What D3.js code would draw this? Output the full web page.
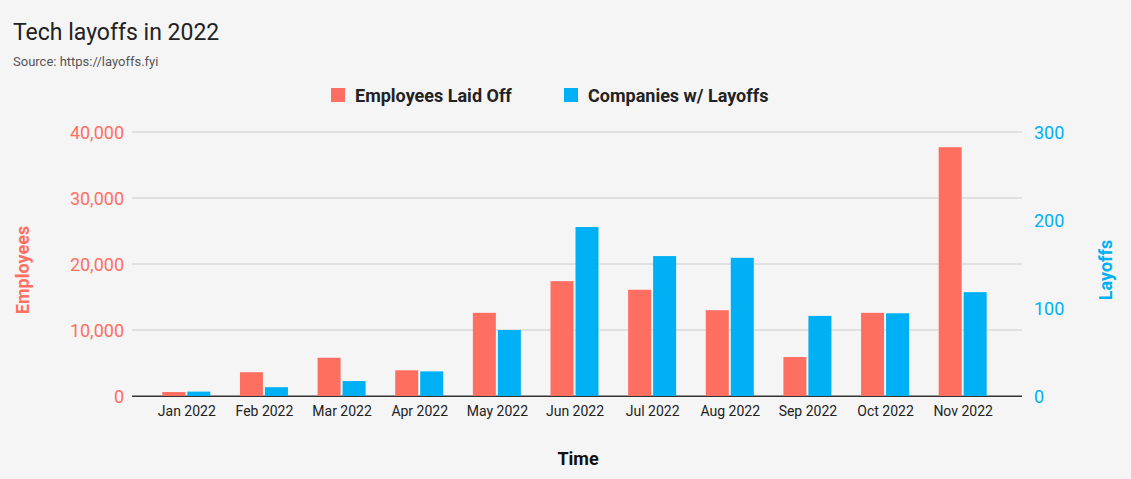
<!DOCTYPE html>
<html><head><meta charset="utf-8">
<script src="https://cdn.jsdelivr.net/npm/d3@7"></script>
<style>body{margin:0;background:#f5f5f5;font-family:Roboto,Arial,sans-serif}</style>
</head><body><svg id="c" width="1131" height="479"></svg>
<script>
const months=["Jan 2022","Feb 2022","Mar 2022","Apr 2022","May 2022","Jun 2022","Jul 2022","Aug 2022","Sep 2022","Oct 2022","Nov 2022"];
const employees=[600,3600,5800,3900,12600,17400,16100,13000,5900,12600,37700];
const companies=[5,10,17,28,75,192,159,157,91,94,118];
const leftTicks=[0,10000,20000,30000,40000];
const rightTicks=[0,100,200,300];
const red="#ff6f61",blue="#00b0f5";
const svg=d3.select("#c");
svg.append("rect").attr("width",1131).attr("height",479).attr("fill","#f5f5f5");
const x=d3.scaleBand().domain(months).range([148,1002]);
const yL=d3.scaleLinear().domain([0,40000]).range([396,132]);
const yR=d3.scaleLinear().domain([0,300]).range([396,132]);
svg.append("text").attr("x",13).attr("y",40).attr("font-size",23).attr("fill","#222").text("Tech layoffs in 2022");
svg.append("text").attr("x",13).attr("y",66).attr("font-size",13).attr("fill","#555").text("Source: https://layoffs.fyi");
// grid
leftTicks.forEach(t=>{svg.append("line").attr("x1",132).attr("x2",1022).attr("y1",yL(t)).attr("y2",yL(t)).attr("stroke",t?"#cccccc":"#333").attr("stroke-width",1);});
// bars
const g=svg.append("g");
g.selectAll(".r").data(months).join("rect").attr("x",d=>x(d)+x.bandwidth()/2-24.5).attr("width",23).attr("y",(d,i)=>yL(employees[i])).attr("height",(d,i)=>396-yL(employees[i])).attr("fill",red);
g.selectAll(".b").data(months).join("rect").attr("x",d=>x(d)+x.bandwidth()/2+0.5).attr("width",23).attr("y",(d,i)=>yR(companies[i])).attr("height",(d,i)=>396-yR(companies[i])).attr("fill",blue);
svg.append("line").attr("x1",132).attr("x2",1022).attr("y1",396.5).attr("y2",396.5).attr("stroke","#333");
// axes labels
svg.selectAll(".lt").data(leftTicks).join("text").attr("x",124).attr("y",d=>yL(d)+7).attr("text-anchor","end").attr("font-size",18).attr("fill",red).text(d3.format(","));
svg.selectAll(".rt").data(rightTicks).join("text").attr("x",1034).attr("y",d=>yR(d)+7).attr("font-size",18).attr("fill",blue).text(d=>d);
svg.selectAll(".xt").data(months).join("text").attr("x",d=>x(d)+x.bandwidth()/2).attr("y",416).attr("text-anchor","middle").attr("font-size",14).attr("fill","#222").text(d=>d);
svg.append("text").attr("transform","translate(29,270) rotate(-90)").attr("text-anchor","middle").attr("font-size",18).attr("font-weight","bold").attr("fill",red).text("Employees");
svg.append("text").attr("transform","translate(1112,270) rotate(-90)").attr("text-anchor","middle").attr("font-size",18).attr("font-weight","bold").attr("fill",blue).text("Layoffs");
svg.append("text").attr("x",578).attr("y",465).attr("text-anchor","middle").attr("font-size",18).attr("font-weight","bold").attr("fill","#111").text("Time");
// legend
svg.append("rect").attr("x",331).attr("y",88).attr("width",14).attr("height",14).attr("fill",red);
svg.append("text").attr("x",355).attr("y",102).attr("font-size",18).attr("font-weight","bold").attr("fill","#222").text("Employees Laid Off");
svg.append("rect").attr("x",564).attr("y",88).attr("width",14).attr("height",14).attr("fill",blue);
svg.append("text").attr("x",588).attr("y",102).attr("font-size",18).attr("font-weight","bold").attr("fill","#222").text("Companies w/ Layoffs");
</script></body></html>
